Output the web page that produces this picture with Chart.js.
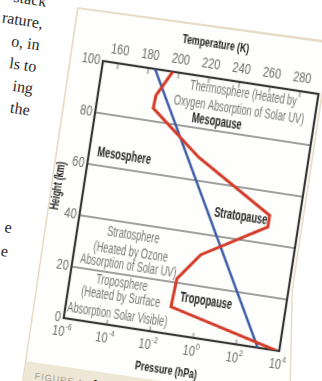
<!DOCTYPE html>
<html>
<head>
<meta charset="utf-8">
<script src="https://cdn.jsdelivr.net/npm/chart.js@4.4.1/dist/chart.umd.min.js"></script>
<style>
  html, body { margin: 0; padding: 0; width: 322px; height: 381px; overflow: hidden; background: #ffffff; }
  .full { position: absolute; left: 0; top: 0; width: 322px; height: 381px; }
  #prose {
    position: absolute; left: -252px; top: -9px; width: 300px;
    transform-origin: 100% 0; transform: rotate(8.7deg);
    font: 16px 'Liberation Serif', serif; color: #2d2a27;
    text-align: right; line-height: 22px; white-space: pre;
  }
  #prose .gap { height: 96px; }
  #prose .late { line-height: 24px; }
  #cardEdge { background: #e7ddc7; clip-path: polygon(77px 7px, 331px 41px, 293px 290px, 291px 381px, 22px 381px); }
  #card { background: #fefefc; clip-path: polygon(78.5px 9px, 329px 43.5px, 291.5px 290px, 289.5px 381px, 23.5px 381px); }
  #band { background: #eee7d6; clip-path: polygon(0 357px, 330px 406px, 0 406px); }
  #caption {
    position: absolute; left: 36px; top: 368px; transform-origin: 0 0; transform: rotate(8.7deg);
    font: 9px 'Liberation Sans', sans-serif; letter-spacing: 1px; color: #a49d8e; white-space: pre;
  }
  #caption b { color: #2a2a2a; font-size: 12px; letter-spacing: 0; }
  #wrap {
    position: absolute; left: 53px; top: 9px; width: 288px; height: 362px;
    transform-origin: 50px 52px; transform: rotate(8.7deg);
  }
</style>
</head>
<body>
<div id="prose"><div>stack</div><div>rature,</div><div>o, in</div><div>ls to</div><div>ing</div><div>the</div><div class="gap"></div><div class="late">e</div><div class="late">e</div></div>
<div class="full" id="cardEdge"></div>
<div class="full" id="card">
  <div class="full" id="band"></div>
  <div id="caption">FIGURE 1  <b>A</b></div>
</div>
<div id="wrap"><canvas id="atm" width="288" height="362"></canvas></div>

<script>
// Axis tick values
const heightTicks = [0, 20, 40, 60, 80, 100];
const temperatureTicks = [160, 180, 200, 220, 240, 260, 280];
const pressureTicks = [1e-6, 1e-4, 1e-2, 1e0, 1e2, 1e4];
const pressureExponents = ['-6', '-4', '-2', '0', '2', '4'];

// Temperature profile: height (km) and temperature (K)
const profileHeightKm = [100, 90, 85, 69, 51, 46.5, 32, 21.5, 10.5, 0];
const profileTempK = [196, 187.5, 187, 221, 272.5, 272.5, 232, 219, 218, 290];

// Pressure profile: height (km) and pressure (hPa)
const pressureHeightKm = [0, 100];
const pressureHPa = [1013, 0.00026];

// Layer names, anchored in temperature (K) / height (km) units
const layerNotes = [
  { text: 'Thermosphere (Heated by', t: 243.6, h: 95.6, bold: false },
  { text: 'Oxygen Absorption of Solar UV)', t: 242.4, h: 89.0, bold: false },
  { text: 'Mesopause', t: 229.2, h: 83.5, bold: true },
  { text: 'Mesosphere', t: 173.0, h: 64.8, bold: true },
  { text: 'Stratopause', t: 254.0, h: 48.8, bold: true },
  { text: 'Stratosphere', t: 186.7, h: 35.3, bold: false },
  { text: '(Heated by Ozone', t: 186.7, h: 28.7, bold: false },
  { text: 'Absorption of Solar UV)', t: 186.5, h: 23.3, bold: false },
  { text: 'Troposphere', t: 184.0, h: 16.3, bold: false },
  { text: '(Heated by Surface', t: 184.7, h: 11.2, bold: false },
  { text: 'Absorption Solar Visible)', t: 184.2, h: 4.3, bold: false },
  { text: 'Tropopause', t: 240.0, h: 14.5, bold: true }
];

const FAMILY = "'Liberation Sans', Arimo, sans-serif";
const NOTE_SQUEEZE = 0.66;
const TITLE_SQUEEZE = 0.68;
const TICK_SQUEEZE = 0.78;
const TICK_COLOR = '#6c6c6c';

// Horizontally condensed text drawn on the chart canvas
function squeezedText(ctx, text, x, y, size, bold, color, squeeze, align, angle) {
  ctx.save();
  ctx.translate(x, y);
  if (angle) ctx.rotate(angle);
  ctx.scale(squeeze, 1);
  ctx.font = (bold ? 'bold ' : '') + size + 'px ' + FAMILY;
  ctx.fillStyle = color;
  ctx.textAlign = align || 'center';
  ctx.textBaseline = 'middle';
  ctx.fillText(text, 0, 0);
  ctx.restore();
}

const atmosphereDecor = {
  id: 'atmosphereDecor',
  beforeDatasetsDraw(chart) {
    const { ctx, chartArea: a, scales } = chart;
    ctx.save();
    ctx.lineCap = 'butt';
    // short inward tick marks
    ctx.strokeStyle = '#b9b9b9';
    ctx.lineWidth = 2;
    ctx.beginPath();
    temperatureTicks.forEach(v => {
      const x = scales.temp.getPixelForValue(v);
      ctx.moveTo(x, a.top); ctx.lineTo(x, a.top + 6);
    });
    pressureTicks.slice(1, -1).forEach(v => {
      const x = scales.pres.getPixelForValue(v);
      ctx.moveTo(x, a.bottom); ctx.lineTo(x, a.bottom - 5);
    });
    ctx.stroke();
    // plot frame
    ctx.strokeStyle = '#383634';
    ctx.lineWidth = 2.2;
    ctx.strokeRect(a.left, a.top, a.right - a.left, a.bottom - a.top);
    ctx.restore();
  },
  afterDatasetsDraw(chart) {
    const { ctx, chartArea: a, scales } = chart;
    // layer names
    layerNotes.forEach(n => {
      squeezedText(ctx, n.text, scales.temp.getPixelForValue(n.t), scales.y.getPixelForValue(n.h),
        14, n.bold, n.bold ? '#262626' : '#777777', NOTE_SQUEEZE);
    });
    // temperature tick labels along the top
    temperatureTicks.forEach(v => {
      squeezedText(ctx, String(v), scales.temp.getPixelForValue(v), a.top - 13, 14, false, TICK_COLOR, TICK_SQUEEZE);
    });
    // height tick labels along the left
    heightTicks.forEach(v => {
      squeezedText(ctx, String(v), a.left - 3, scales.y.getPixelForValue(v), 14, false, TICK_COLOR, TICK_SQUEEZE, 'right');
    });
    // pressure tick labels with superscript exponents
    ctx.save();
    ctx.fillStyle = TICK_COLOR;
    ctx.textBaseline = 'alphabetic';
    ctx.textAlign = 'left';
    pressureTicks.forEach((v, i) => {
      const x = scales.pres.getPixelForValue(v);
      ctx.font = '14px ' + FAMILY;
      const wBase = ctx.measureText('10').width;
      ctx.font = '9px ' + FAMILY;
      const wExp = ctx.measureText(pressureExponents[i]).width;
      ctx.save();
      ctx.translate(x, a.bottom + 18);
      ctx.scale(TICK_SQUEEZE, 1);
      const x0 = -(wBase + wExp + 0.5) / 2;
      ctx.font = '14px ' + FAMILY;
      ctx.fillText('10', x0, 0);
      ctx.font = '9px ' + FAMILY;
      ctx.fillText(pressureExponents[i], x0 + wBase + 0.5, -7);
      ctx.restore();
    });
    ctx.restore();
    // axis titles
    const cx = (a.left + a.right) / 2;
    squeezedText(ctx, 'Temperature (K)', cx, a.top - 34, 13, true, '#232323', TITLE_SQUEEZE);
    squeezedText(ctx, 'Pressure (hPa)', cx, a.bottom + 36, 13, true, '#232323', TITLE_SQUEEZE);
    squeezedText(ctx, 'Height (km)', a.left - 25.5, (a.top + a.bottom) / 2, 13, true, '#232323', TITLE_SQUEEZE, 'center', -Math.PI / 2);
  }
};

new Chart(document.getElementById('atm'), {
  type: 'scatter',
  data: {
    datasets: [
      {
        label: 'Temperature',
        data: profileHeightKm.map((h, i) => ({ x: profileTempK[i], y: h })),
        xAxisID: 'temp',
        yAxisID: 'y',
        showLine: true,
        borderColor: '#d33d2a',
        borderWidth: 3,
        pointRadius: 0,
        borderJoinStyle: 'miter',
        order: 1
      },
      {
        label: 'Pressure',
        data: pressureHeightKm.map((h, i) => ({ x: pressureHPa[i], y: h })),
        xAxisID: 'pres',
        yAxisID: 'y',
        showLine: true,
        borderColor: '#3c5ca8',
        borderWidth: 2.5,
        pointRadius: 0,
        order: 2
      }
    ]
  },
  options: {
    responsive: false,
    animation: false,
    devicePixelRatio: 1,
    layout: { padding: { left: 0, right: 20, top: 0, bottom: 0 } },
    plugins: { legend: { display: false }, tooltip: { enabled: false } },
    scales: {
      temp: {
        type: 'linear',
        position: 'top',
        min: 150,
        max: 292,
        afterBuildTicks: s => { s.ticks = temperatureTicks.map(v => ({ value: v })); },
        afterFit: s => { s.height = 52; },
        grid: { display: false },
        border: { display: false },
        ticks: { display: false }
      },
      pres: {
        type: 'logarithmic',
        position: 'bottom',
        min: 1e-6,
        max: 1e4,
        afterBuildTicks: s => { s.ticks = pressureTicks.map(v => ({ value: v })); },
        afterFit: s => { s.height = 50; },
        grid: { display: false },
        border: { display: false },
        ticks: { display: false }
      },
      y: {
        type: 'linear',
        position: 'left',
        min: 0,
        max: 100,
        afterBuildTicks: s => { s.ticks = heightTicks.map(v => ({ value: v })); },
        afterFit: s => { s.width = 50; },
        grid: { color: '#a0a0a0', lineWidth: 2, drawTicks: false },
        border: { display: false },
        ticks: { display: false }
      }
    }
  },
  plugins: [atmosphereDecor]
});
</script>
</body>
</html>
